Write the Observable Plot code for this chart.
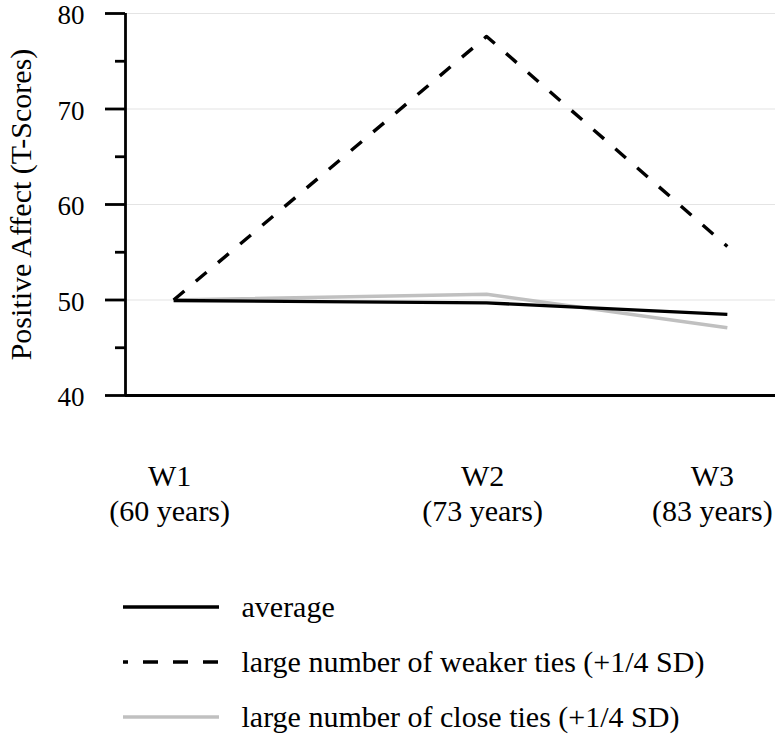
<!DOCTYPE html>
<html>
<head>
<meta charset="utf-8">
<script src="https://cdn.jsdelivr.net/npm/d3@7"></script>
<script src="https://cdn.jsdelivr.net/npm/@observablehq/plot@0.6"></script>
<style>
  html, body { margin: 0; padding: 0; background: #fff; }
  #chart { width: 780px; }
  svg { display: block; }
</style>
</head>
<body>
<div id="chart"></div>
<script>
// ---- data ----
const waves = ["W1", "W2", "W3"];
const ages = [60, 73, 83];
const average = [49.95, 49.7, 48.5];
const weakerTies = [50.0, 77.6, 55.6];
const closeTies = [50.0, 50.6, 47.1];
const seriesNames = [
  "average",
  "large number of weaker ties (+1/4 SD)",
  "large number of close ties (+1/4 SD)"
];
const yMajorTicks = [40, 50, 60, 70, 80];
const yMinorTicks = [45, 55, 65, 75];
const yGridTicks = [50, 60, 70, 80];
const yLabel = "Positive Affect (T-Scores)";

// ---- build tables ----
const toRows = (vals) => ages.map((a, i) => ({age: a, value: vals[i]}));
const avgRows = toRows(average);
const weakRows = toRows(weakerTies);
const closeRows = toRows(closeTies);
const waveLabels = waves.map((w, i) => ({age: ages[i], label: `${w}\n(${ages[i]} years)`}));

const font = "Liberation Serif, Times New Roman, serif";
const styles = {
  average: {stroke: "#000", strokeWidth: 3.4, dash: null},
  weak: {stroke: "#000", strokeWidth: 3.4, dash: "14,15"},
  close: {stroke: "#c0c0c0", strokeWidth: 3.6, dash: null}
};

const plot = Plot.plot({
  width: 780,
  height: 560,
  marginTop: 13,
  marginBottom: 165,
  marginLeft: 125,
  marginRight: 5,
  style: {fontFamily: font, background: "#fff", color: "#000", overflow: "visible"},
  x: {type: "linear", domain: [58, 85], axis: null},
  y: {domain: [40, 80], axis: null},
  marks: [
    Plot.gridY(yGridTicks, {stroke: "#e4e4e4", strokeOpacity: 1, strokeWidth: 1.2}),
    Plot.axisY(yMajorTicks, {tickSize: 20, strokeWidth: 2.8, tickFormat: () => "", label: null}),
    Plot.axisY(yMinorTicks, {tickSize: 10, strokeWidth: 2.8, tickFormat: () => "", label: null}),
    Plot.axisY(yMajorTicks, {tickSize: 0, tickPadding: 41, fontSize: 27, dy: 2, fill: "#000", label: null}),
    Plot.text([yLabel], {frameAnchor: "left", textAnchor: "middle", rotate: -90, dx: -104, fontSize: 30, fill: "#000"}),
    Plot.ruleX([58], {stroke: "#000", strokeWidth: 2.8}),
    Plot.ruleY([40], {stroke: "#000", strokeWidth: 3.2}),
    Plot.line(closeRows, {x: "age", y: "value", stroke: styles.close.stroke, strokeWidth: styles.close.strokeWidth, strokeLinecap: "butt"}),
    Plot.line(avgRows, {x: "age", y: "value", stroke: styles.average.stroke, strokeWidth: styles.average.strokeWidth, strokeLinecap: "butt"}),
    Plot.line(weakRows, {x: "age", y: "value", stroke: styles.weak.stroke, strokeWidth: styles.weak.strokeWidth, strokeDasharray: styles.weak.dash, strokeLinecap: "butt"}),
    Plot.text(waveLabels.slice(0, 2), {x: "age", text: "label", frameAnchor: "bottom", lineAnchor: "top", dy: 66, dx: -4, fontSize: 30, lineHeight: 1.157, fill: "#000"}),
    Plot.text(waveLabels.slice(2), {x: "age", text: "label", frameAnchor: "bottom", lineAnchor: "top", dy: 66, dx: -15, fontSize: 30, lineHeight: 1.157, fill: "#000"})
  ]
});
document.getElementById("chart").appendChild(plot);

// ---- legend ----
const legendItems = [
  {name: seriesNames[0], ...styles.average, offset: 0},
  {name: seriesNames[1], ...styles.weak, offset: 10},
  {name: seriesNames[2], ...styles.close, offset: 0}
];
const legend = d3.create("svg")
  .attr("width", 780)
  .attr("height", 181)
  .style("font-family", font);
const rows = legend.selectAll("g").data(legendItems).join("g")
  .attr("transform", (d, i) => `translate(0, ${47 + i * 55})`);
rows.append("line")
  .attr("x1", 123).attr("x2", 219).attr("y1", 0).attr("y2", 0)
  .attr("stroke", d => d.stroke)
  .attr("stroke-width", d => d.strokeWidth)
  .attr("stroke-dasharray", d => d.dash ? "15,15" : null)
  .attr("stroke-dashoffset", d => d.offset);
rows.append("text")
  .attr("x", 241.5).attr("y", 0).attr("dy", "0.32em")
  .attr("font-size", 30)
  .attr("fill", "#000")
  .text(d => d.name);
document.getElementById("chart").appendChild(legend.node());
</script>
</body>
</html>
